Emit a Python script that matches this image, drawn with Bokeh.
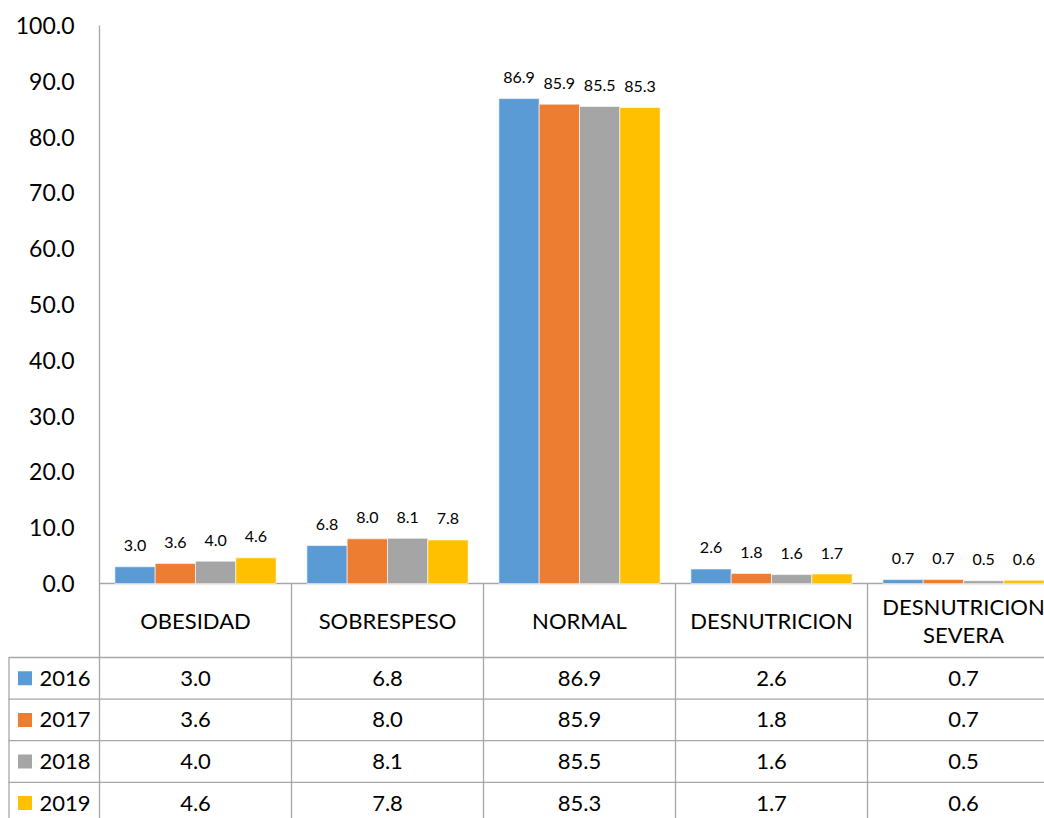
from bokeh.plotting import figure
from bokeh.models import Range1d, ColumnDataSource
from bokeh.embed import file_html
from bokeh.resources import INLINE
from bokeh.core.properties import value

categories = ["OBESIDAD", "SOBRESPESO", "NORMAL", "DESNUTRICION", "DESNUTRICION\nSEVERA"]
years = ["2016", "2017", "2018", "2019"]
v2016 = [3.0, 6.8, 86.9, 2.6, 0.7]
v2017 = [3.6, 8.0, 85.9, 1.8, 0.7]
v2018 = [4.0, 8.1, 85.5, 1.6, 0.5]
v2019 = [4.6, 7.8, 85.3, 1.7, 0.6]
series = [v2016, v2017, v2018, v2019]
colors = ["#5B9BD5", "#ED7D31", "#A5A5A5", "#FFC000"]
y_ticks = [0, 10, 20, 30, 40, 50, 60, 70, 80, 90, 100]

FONT = "Lato"
GRID = "#A6A6A6"

W, H = 1044, 818
Y0 = 583.0            # pixel row of value 0
PLOT_H = 558.0        # pixels for 0..100
HEAD_H = 74.0
ROW_H = 41.6
LEFT = 99.0
COLW = 192.0
ppu = PLOT_H / 100.0

p = figure(width=W, height=H, output_backend="svg", toolbar_location=None,
           x_range=Range1d(-LEFT / COLW, (W - LEFT) / COLW),
           y_range=Range1d(-(H - Y0) / ppu, Y0 / ppu),
           x_axis_location=None, y_axis_location=None, min_border=0)
p.outline_line_color = None
p.xgrid.visible = False
p.ygrid.visible = False
p.extra_x_ranges = {"px": Range1d(0, W)}
p.extra_y_ranges = {"px": Range1d(H, 0)}

ncat = len(categories)
head_bot = Y0 + HEAD_H

# value axis: line + tick labels
p.segment(x0=[0], y0=[100], x1=[0], y1=[-(H - Y0) / ppu], line_color=GRID, line_width=1.3)
p.text(x=[74] * len(y_ticks), y=y_ticks, text=["%.1f" % v for v in y_ticks],
       x_range_name="px", text_align="right", text_baseline="middle",
       text_font=value(FONT), text_font_size="23px", text_color="#000000")
# base line / table top
p.segment(x0=[0], y0=[0], x1=[ncat], y1=[0], line_color=GRID, line_width=1.3)

# bars and data labels
bw = 0.21
offsets = [-1.5 * bw, -0.5 * bw, 0.5 * bw, 1.5 * bw]
for vals, col, off in zip(series, colors, offsets):
    xs = [i + 0.5 + off for i in range(ncat)]
    src = ColumnDataSource(dict(x=xs, top=vals, lab=["%.1f" % v for v in vals]))
    p.vbar(x="x", top="top", width=bw, bottom=0, source=src, fill_color=col,
           line_color="white", line_width=0.6)
    p.text(x="x", y="top", text="lab", source=src, text_align="center",
           text_baseline="middle", y_offset=-21, text_font=value(FONT),
           text_font_size="16px", text_color="#000000")

# ---- data table ----
vx = list(range(1, ncat + 1))
p.segment(x0=vx, y0=[0] * ncat, x1=vx, y1=[-(H - Y0) / ppu] * ncat,
          line_color=GRID, line_width=1.3)
p.segment(x0=[8.5], y0=[head_bot], x1=[8.5], y1=[H], x_range_name="px", y_range_name="px",
          line_color=GRID, line_width=1.3)
ry = [head_bot + k * ROW_H for k in range(len(years))]
p.segment(x0=[8] * len(ry), y0=ry, x1=[W] * len(ry), y1=ry, x_range_name="px",
          y_range_name="px", line_color=GRID, line_width=1.3)

p.text(x=[i + 0.5 for i in range(ncat)], y=[Y0 + HEAD_H / 2] * ncat, y_range_name="px",
       text=categories, text_align="center", text_baseline="middle",
       text_font=value(FONT), text_font_size="22px", text_color="#000000",
       text_line_height=1.05)

row_c = [head_bot + ROW_H / 2 + k * ROW_H for k in range(len(years))]
p.rect(x=[24.5] * len(years), y=row_c, width=14, height=14, width_units="screen",
       height_units="screen", x_range_name="px", y_range_name="px",
       fill_color=colors, line_color=None)
p.text(x=[39] * len(years), y=row_c, text=years, x_range_name="px", y_range_name="px",
       text_align="left", text_baseline="middle", text_font=value(FONT),
       text_font_size="22px", text_color="#000000")
for k, vals in enumerate(series):
    p.text(x=[i + 0.5 for i in range(ncat)], y=[row_c[k]] * ncat, y_range_name="px",
           text=["%.1f" % v for v in vals], text_align="center", text_baseline="middle",
           text_font=value(FONT), text_font_size="22px", text_color="#000000")

open("out.html", "w").write(file_html(p, INLINE))
